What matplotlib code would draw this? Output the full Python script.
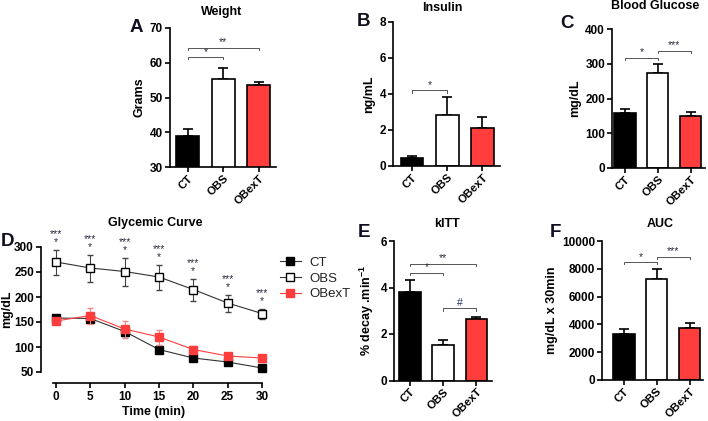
import numpy as np
import matplotlib
matplotlib.use('Agg')
import matplotlib.pyplot as plt
from matplotlib.lines import Line2D

plt.rcParams['font.family'] = ['Liberation Sans', 'DejaVu Sans']
plt.rcParams['font.weight'] = 'bold'
plt.rcParams['axes.labelweight'] = 'bold'
plt.rcParams['mathtext.fontset'] = 'custom'
plt.rcParams['mathtext.rm'] = 'Liberation Sans:bold'
plt.rcParams['mathtext.bf'] = 'Liberation Sans:bold'
plt.rcParams['axes.linewidth'] = 1.2

# ---- data ----
groups = ['CT', 'OBS', 'OBexT']

weight_mean = [39.0, 55.2, 53.5]
weight_err = [1.8, 3.4, 1.0]

insulin_mean = [0.45, 2.85, 2.12]
insulin_err = [0.10, 1.0, 0.62]

glucose_mean = [158, 272, 151]
glucose_err = [11, 26, 9]

kitt_mean = [3.81, 1.54, 2.63]
kitt_err = [0.53, 0.20, 0.10]

auc_mean = [3330, 7240, 3760]
auc_err = [340, 745, 340]

time_min = [0, 5, 10, 15, 20, 25, 30]
ct_curve = [158, 157, 131, 95, 78, 70, 58]
ct_curve_err = [6, 8, 9, 7, 6, 5, 4]
obs_curve = [270, 258, 251, 240, 215, 188, 167]
obs_curve_err = [25, 27, 28, 25, 22, 17, 10]
obext_curve = [152, 163, 136, 120, 95, 82, 78]
obext_curve_err = [6, 16, 17, 15, 7, 5, 3]
curve_marks = ['***\n*'] * 7

red = '#ff3d3d'
star_col = '#2a2a40'
bar_colors = ['black', 'white', red]

W, H = 708, 421
fig = plt.figure(figsize=(W / 100, H / 100), dpi=100)


def px_axes(x0, x1, ytop, ybot):
    return fig.add_axes([x0 / W, 1 - ybot / H, (x1 - x0) / W, (ybot - ytop) / H])


def style(ax):
    for s in ['top', 'right']:
        ax.spines[s].set_visible(False)
    ax.tick_params(labelsize=8.5, width=1.2, length=3.5, pad=1.5)
    ax.tick_params(axis='x', labelsize=8.2, pad=1)
    for lab in ax.get_yticklabels() + ax.get_xticklabels():
        lab.set_fontweight('bold')


def bar_panel(ax, mean, err, ylim, yticks, xlim):
    x = np.arange(3)
    ax.bar(x, mean, width=0.65, color=bar_colors, edgecolor='black', linewidth=1.2, zorder=2)
    ax.errorbar(x, mean, yerr=[np.zeros(3), err], fmt='none', ecolor='black',
                elinewidth=1.2, capsize=3.5, capthick=1.2, zorder=1)
    ax.set_ylim(*ylim)
    ax.set_yticks(yticks)
    ax.set_xlim(*xlim)
    ax.set_xticks(x)
    ax.set_xticklabels(groups, rotation=45, ha='right', rotation_mode='anchor')
    style(ax)


def bracket(ax, x1, x2, y, label, color=star_col):
    lo, hi = ax.get_ylim()
    d = (hi - lo) * 0.015
    ax.plot([x1, x1, x2, x2], [y - d, y, y, y - d], color='#555555', lw=0.7, clip_on=False)
    ax.text((x1 + x2) / 2, y + d * 0.2, label, ha='center', va='bottom', fontsize=7.5,
            color=color, fontweight='normal')


# A  Weight
axA = px_axes(170, 276, 28, 167)
bar_panel(axA, weight_mean, weight_err, (30, 70), [30, 40, 50, 60, 70], (-0.5, 2.48))
axA.set_ylabel('Grams', fontsize=9, labelpad=3)
bracket(axA, 0, 1, 61.6, '*')
bracket(axA, 0, 2, 64.3, '**')

# B  Insulin
axB = px_axes(393, 500, 22, 166)
bar_panel(axB, insulin_mean, insulin_err, (0, 8), [0, 2, 4, 6, 8], (-0.54, 2.5))
axB.set_ylabel('ng/mL', fontsize=9, labelpad=3)
bracket(axB, 0, 1, 4.2, '*')

# C  Blood glucose
axC = px_axes(612, 705, 29, 168)
bar_panel(axC, glucose_mean, glucose_err, (0, 400), [0, 100, 200, 300, 400], (-0.4, 2.44))
axC.set_ylabel('mg/dL', fontsize=9, labelpad=3)
bracket(axC, 0, 1, 317, '*')
bracket(axC, 1, 2, 337, '***')

# E  kITT
axE = px_axes(394, 492, 241, 380.5)
bar_panel(axE, kitt_mean, kitt_err, (0, 6), [0, 2, 4, 6], (-0.48, 2.47))
axE.set_ylabel('% decay .min$^{-1}$', fontsize=9, labelpad=3)
bracket(axE, 0, 1, 4.64, '*')
bracket(axE, 0, 2, 5.03, '**')
bracket(axE, 1, 2, 3.1, '#', color='#1f3570')

# F  AUC
axF = px_axes(602, 703, 241, 380)
bar_panel(axF, auc_mean, auc_err, (0, 10000), [0, 2000, 4000, 6000, 8000, 10000], (-0.67, 2.41))
axF.set_ylabel('mg/dL x 30min', fontsize=9, labelpad=3)
bracket(axF, 0, 1, 8470, '*')
bracket(axF, 1, 2, 8850, '***')

# D  Glycemic curve
axD = px_axes(40.9, 265.4, 247, 372)
axD.errorbar(time_min, ct_curve, yerr=ct_curve_err, color='#333333', lw=0.8, marker='s',
             ms=6, mfc='black', mec='black', ecolor='#444444', elinewidth=0.8, capsize=2.5,
             clip_on=False, zorder=3)
axD.errorbar(time_min, obext_curve, yerr=obext_curve_err, color=red, lw=0.8, marker='s',
             ms=6, mfc=red, mec=red, ecolor='#ee8888', elinewidth=0.8, capsize=2.5,
             clip_on=False, zorder=4)
axD.errorbar(time_min, obs_curve, yerr=obs_curve_err, color='#333333', lw=0.8, marker='s',
             ms=6, mfc='white', mec='black', mew=1.0, ecolor='#444444', elinewidth=0.8,
             capsize=2.5, clip_on=False, zorder=3)
for t, v, e, m in zip(time_min, obs_curve, obs_curve_err, curve_marks):
    axD.annotate(m, (t, v + e), xytext=(0, 1.5), textcoords='offset points', ha='center',
                 va='bottom', fontsize=7.5, color=star_col, fontweight='normal',
                 linespacing=0.85, annotation_clip=False)
axD.set_xlim(-2.2, 30.5)
axD.set_ylim(50, 300)
axD.set_xticks(time_min)
axD.set_yticks([50, 100, 150, 200, 250, 300])
axD.spines['bottom'].set_position(('outward', 8))
axD.spines['bottom'].set_bounds(-0.4, 30)
axD.spines['left'].set_bounds(50, 300)
style(axD)
axD.tick_params(axis='x', labelsize=8.5, pad=2)
axD.set_xlabel('Time (min)', fontsize=9, labelpad=2)
axD.set_ylabel('mg/dL', fontsize=9, labelpad=1)

handles = [
    Line2D([], [], color='#333333', lw=0.8, marker='s', ms=6, mfc='black', mec='black'),
    Line2D([], [], color='#333333', lw=0.8, marker='s', ms=6, mfc='white', mec='black'),
    Line2D([], [], color=red, lw=0.8, marker='s', ms=6, mfc=red, mec=red),
]
leg = fig.legend(handles, groups, loc='upper left',
                 bbox_to_anchor=(268 / W, 1 - 245 / H), frameon=False,
                 prop={'size': 9.5, 'weight': 'normal'}, handlelength=1.6,
                 labelspacing=0.25, handletextpad=0.6)
for t in leg.get_texts():
    t.set_color('#222222')

# titles
titles = [('Weight', 222, 12), ('Insulin', 442, 8), ('Blood Glucose', 655, 6),
          ('Glycemic Curve', 155, 223), ('kITT', 447, 224), ('AUC', 660, 224)]
for txt, x, y in titles:
    fig.text(x / W, 1 - y / H, txt, ha='center', va='center', fontsize=9, fontweight='bold')

letters = [('A', 136, 28), ('B', 363, 22), ('C', 567, 24), ('D', 8, 241),
           ('E', 364, 233), ('F', 555, 233)]
for txt, x, y in letters:
    fig.text(x / W, 1 - y / H, txt, ha='center', va='center', fontsize=13.5,
             fontweight='bold', color='#101020')

fig.savefig('out.png', dpi=100)
